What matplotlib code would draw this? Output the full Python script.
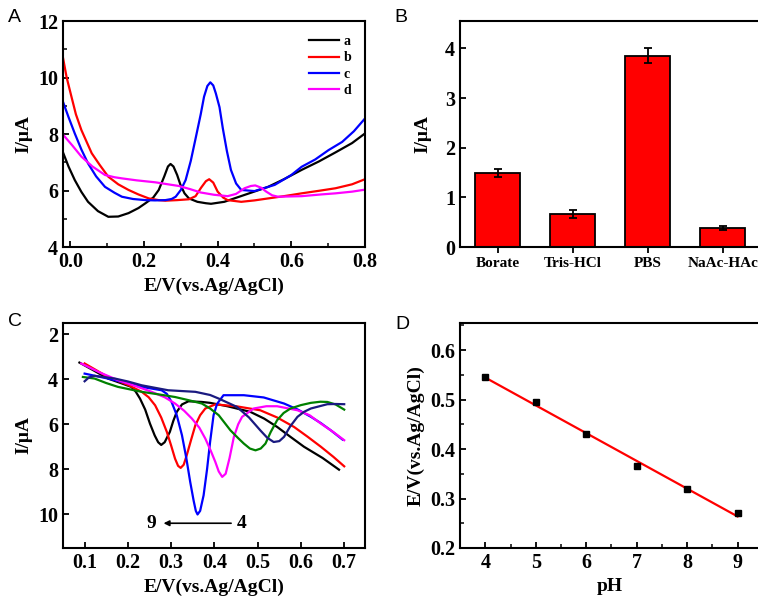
import matplotlib
matplotlib.use("Agg")
import matplotlib.pyplot as plt
import numpy as np
from matplotlib.ticker import MultipleLocator

# ---- panel A: DPV curves a-d ----
a_E = [-0.02, -0.005, 0.012, 0.03, 0.048, 0.075, 0.103, 0.13, 0.158, 0.185, 0.204,
       0.225, 0.24, 0.255, 0.265, 0.272, 0.28, 0.29, 0.299, 0.31, 0.322, 0.345,
       0.368, 0.382, 0.418, 0.445, 0.49, 0.537, 0.58, 0.628, 0.675, 0.72, 0.765, 0.8]
a_I = [7.35, 6.85, 6.37, 5.95, 5.6, 5.27, 5.07, 5.08, 5.2, 5.38, 5.55,
       5.75, 6.02, 6.5, 6.85, 6.94, 6.85, 6.55, 6.2, 5.9, 5.72, 5.6,
       5.55, 5.53, 5.6, 5.72, 5.92, 6.13, 6.4, 6.73, 7.03, 7.35, 7.68, 8.02]

b_E = [-0.02, -0.01, 0.003, 0.015, 0.03, 0.045, 0.058, 0.08, 0.103, 0.13, 0.158,
       0.185, 0.213, 0.24, 0.258, 0.29, 0.322, 0.34, 0.355, 0.368, 0.377, 0.388,
       0.4, 0.415, 0.427, 0.464, 0.5, 0.537, 0.58, 0.628, 0.675, 0.72, 0.765, 0.8]
b_I = [10.7, 10.0, 9.32, 8.7, 8.14, 7.7, 7.32, 6.9, 6.49, 6.22, 6.02,
       5.86, 5.72, 5.66, 5.64, 5.66, 5.69, 5.8, 6.1, 6.33, 6.4, 6.28,
       5.96, 5.75, 5.66, 5.6, 5.65, 5.72, 5.8, 5.9, 5.99, 6.08, 6.22, 6.4]

c_E = [-0.02, -0.005, 0.012, 0.03, 0.048, 0.07, 0.094, 0.12, 0.14, 0.17, 0.204,
       0.23, 0.258, 0.275, 0.286, 0.3, 0.313, 0.327, 0.341, 0.354, 0.363, 0.372,
       0.38, 0.388, 0.395, 0.405, 0.414, 0.425, 0.436, 0.45, 0.464, 0.5, 0.555,
       0.6, 0.628, 0.665, 0.701, 0.738, 0.77, 0.8]
c_I = [9.14, 8.6, 8.02, 7.45, 6.96, 6.5, 6.13, 5.92, 5.78, 5.7, 5.66,
       5.65, 5.66, 5.7, 5.78, 6.02, 6.37, 7.05, 7.9, 8.7, 9.32, 9.7,
       9.83, 9.72, 9.44, 8.95, 8.2, 7.4, 6.73, 6.25, 6.02, 5.98, 6.2,
       6.55, 6.84, 7.1, 7.43, 7.72, 8.1, 8.55]

d_E = [-0.02, 0.005, 0.03, 0.06, 0.094, 0.12, 0.14, 0.18, 0.231, 0.265, 0.295,
       0.325, 0.354, 0.39, 0.427, 0.45, 0.473, 0.49, 0.502, 0.518, 0.532, 0.548,
       0.564, 0.628, 0.68, 0.72, 0.765, 0.8]
d_I = [7.98, 7.6, 7.2, 6.85, 6.55, 6.47, 6.43, 6.36, 6.29, 6.22, 6.16,
       6.05, 5.93, 5.85, 5.8, 5.88, 6.08, 6.16, 6.18, 6.1, 5.96, 5.83,
       5.78, 5.8, 5.86, 5.9, 5.96, 6.03]

# ---- panel B: buffer comparison ----
buffers = ["Borate", "Tris-HCl", "PBS", "NaAc-HAc"]
buffer_I = [1.49, 0.67, 3.85, 0.38]
buffer_err = [0.08, 0.08, 0.15, 0.04]

# ---- panel C: DPV at pH 9 ... 4 ----
ph9_E = [0.088, 0.12, 0.154, 0.185, 0.208, 0.218, 0.228, 0.24, 0.251, 0.262, 0.27,
         0.277, 0.285, 0.297, 0.305, 0.313, 0.325, 0.34, 0.371, 0.39, 0.43, 0.483,
         0.515, 0.545, 0.575, 0.607, 0.65, 0.688]
ph9_I = [3.26, 3.6, 3.97, 4.18, 4.34, 4.55, 4.86, 5.35, 5.97, 6.5, 6.8,
         6.92, 6.8, 6.34, 5.85, 5.45, 5.12, 4.98, 5.01, 5.05, 5.2, 5.45,
         5.75, 6.12, 6.55, 7.0, 7.5, 8.02]

ph8_E = [0.1, 0.154, 0.2, 0.232, 0.248, 0.263, 0.277, 0.29, 0.3, 0.309, 0.316,
         0.322, 0.329, 0.336, 0.346, 0.356, 0.367, 0.379, 0.402, 0.45, 0.506,
         0.545, 0.584, 0.615, 0.646, 0.675, 0.7]
ph8_I = [3.3, 3.9, 4.25, 4.56, 4.8, 5.16, 5.7, 6.34, 6.95, 7.53, 7.85,
         7.94, 7.8, 7.38, 6.7, 6.04, 5.6, 5.3, 5.12, 5.2, 5.38,
         5.7, 6.12, 6.55, 7.0, 7.45, 7.87]

ph7_E = [0.1, 0.154, 0.2, 0.232, 0.278, 0.29, 0.301, 0.313, 0.325, 0.335, 0.344,
         0.352, 0.357, 0.361, 0.367, 0.375, 0.383, 0.39, 0.398, 0.406, 0.421,
         0.468, 0.514, 0.561, 0.593, 0.623, 0.646, 0.669, 0.696]
ph7_I = [3.75, 3.97, 4.18, 4.34, 4.49, 4.65, 5.01, 5.6, 6.49, 7.5, 8.56,
         9.4, 9.85, 10.01, 9.85, 9.16, 8.0, 6.79, 5.6, 5.1, 4.71,
         4.71, 4.81, 5.08, 5.35, 5.67, 5.95, 6.27, 6.68]

ph6_E = [0.092, 0.135, 0.177, 0.22, 0.255, 0.285, 0.309, 0.33, 0.348, 0.365, 0.379,
         0.392, 0.402, 0.41, 0.418, 0.426, 0.435, 0.445, 0.455, 0.464, 0.491,
         0.52, 0.545, 0.592, 0.62, 0.646, 0.675, 0.7]
ph6_I = [3.3, 3.7, 4.04, 4.32, 4.56, 4.8, 5.08, 5.4, 5.75, 6.15, 6.64,
         7.2, 7.67, 8.1, 8.34, 8.2, 7.5, 6.56, 6.0, 5.67, 5.3,
         5.2, 5.2, 5.38, 5.6, 5.97, 6.35, 6.71]

ph5_E = [0.096, 0.123, 0.15, 0.177, 0.232, 0.27, 0.309, 0.34, 0.371, 0.39, 0.41,
         0.437, 0.455, 0.468, 0.482, 0.495, 0.507, 0.518, 0.53, 0.545, 0.56,
         0.576, 0.6, 0.623, 0.645, 0.661, 0.68, 0.7]
ph5_I = [3.9, 3.97, 4.17, 4.34, 4.56, 4.67, 4.79, 4.93, 5.08, 5.3, 5.6,
         6.27, 6.62, 6.86, 7.08, 7.16, 7.08, 6.86, 6.35, 5.82, 5.5,
         5.3, 5.15, 5.05, 5.0, 5.01, 5.12, 5.35]

ph4_E = [0.1, 0.11, 0.123, 0.17, 0.2, 0.232, 0.293, 0.356, 0.39, 0.41, 0.452,
         0.48, 0.506, 0.522, 0.537, 0.55, 0.561, 0.575, 0.592, 0.607, 0.623,
         0.661, 0.68, 0.7]
ph4_I = [4.09, 3.92, 3.85, 3.97, 4.1, 4.27, 4.49, 4.56, 4.7, 4.86, 5.23,
         5.7, 6.27, 6.6, 6.79, 6.75, 6.56, 6.1, 5.67, 5.45, 5.3,
         5.11, 5.1, 5.11]

# ---- panel D: peak potential vs pH ----
pH = [4, 5, 6, 7, 8, 9]
Ep = [0.545, 0.495, 0.43, 0.365, 0.32, 0.27]

plt.rcParams["font.family"] = ["Liberation Serif", "DejaVu Serif"]
plt.rcParams["font.weight"] = "bold"
plt.rcParams["axes.labelweight"] = "bold"
plt.rcParams["axes.linewidth"] = 1.5
plt.rcParams["xtick.major.width"] = 1.3
plt.rcParams["ytick.major.width"] = 1.3
plt.rcParams["xtick.minor.width"] = 1.1
plt.rcParams["ytick.minor.width"] = 1.1

TICK_FS = 14.5
LABEL_FS = 14


def style_ticks(ax, direction="in"):
    ax.tick_params(which="both", direction=direction, labelsize=TICK_FS)
    ax.tick_params(which="major", length=4.5)
    ax.tick_params(which="minor", length=3)


def panel_letter(fig, x, y, letter):
    fig.text(x, y, letter, fontsize=14, fontweight="normal",
             family=["Liberation Sans", "DejaVu Sans"], ha="left", va="top")


def main():
    fig = plt.figure(figsize=(7.58, 6.01), dpi=100)

    axA = fig.add_axes([0.0831, 0.589, 0.3984, 0.376])
    axB = fig.add_axes([0.607, 0.589, 0.396, 0.376])
    axC = fig.add_axes([0.0831, 0.0882, 0.3984, 0.3744])
    axD = fig.add_axes([0.607, 0.0882, 0.396, 0.3744])

    # A
    axA.plot(a_E, a_I, color="black", lw=1.6, label="a")
    axA.plot(b_E, b_I, color="#ff0000", lw=1.6, label="b")
    axA.plot(c_E, c_I, color="#0000ff", lw=1.6, label="c")
    axA.plot(d_E, d_I, color="#ff00ff", lw=1.6, label="d")
    axA.set_xlim(-0.02, 0.8)
    axA.set_ylim(4, 12)
    axA.xaxis.set_major_locator(MultipleLocator(0.2))
    axA.xaxis.set_minor_locator(MultipleLocator(0.1))
    axA.yaxis.set_major_locator(MultipleLocator(2))
    axA.yaxis.set_minor_locator(MultipleLocator(1))
    style_ticks(axA)
    axA.set_xlabel("E/V(vs.Ag/AgCl)", fontsize=LABEL_FS)
    axA.set_ylabel("I/\u03bcA", fontsize=LABEL_FS)
    axA.legend(loc="upper right", frameon=False, fontsize=10, handlelength=2.2,
               handletextpad=0.3, labelspacing=0.25, borderaxespad=0.6)

    # B
    xpos = np.arange(len(buffers))
    axB.bar(xpos, buffer_I, width=0.6, color="#ff0000", edgecolor="black", lw=1.3)
    axB.errorbar(xpos, buffer_I, yerr=buffer_err, fmt="none", ecolor="black",
                 elinewidth=1.3, capsize=3, capthick=1.3)
    axB.set_xlim(-0.5, 3.5)
    axB.set_ylim(0, 4.55)
    axB.set_xticks(xpos)
    axB.set_xticklabels(buffers, fontsize=11)
    axB.yaxis.set_major_locator(MultipleLocator(1))
    axB.tick_params(axis="y", direction="in", labelsize=TICK_FS, length=4.5)
    axB.tick_params(axis="x", direction="out", length=4)
    axB.set_ylabel("I/\u03bcA", fontsize=LABEL_FS, labelpad=10)

    # C
    axC.plot(ph9_E, ph9_I, color="black", lw=1.6)
    axC.plot(ph8_E, ph8_I, color="#ff0000", lw=1.6)
    axC.plot(ph7_E, ph7_I, color="#0000ff", lw=1.6)
    axC.plot(ph6_E, ph6_I, color="#ff00ff", lw=1.6)
    axC.plot(ph5_E, ph5_I, color="#008000", lw=1.6)
    axC.plot(ph4_E, ph4_I, color="#1a1a80", lw=1.6)
    axC.set_xlim(0.05, 0.748)
    axC.set_ylim(11.5, 1.5)
    axC.xaxis.set_major_locator(MultipleLocator(0.1))
    axC.yaxis.set_major_locator(MultipleLocator(2))
    style_ticks(axC)
    axC.set_xlabel("E/V(vs.Ag/AgCl)", fontsize=LABEL_FS)
    axC.set_ylabel("I/\u03bcA", fontsize=LABEL_FS)
    axC.annotate("", xy=(0.276, 10.4), xytext=(0.445, 10.4),
                 arrowprops=dict(arrowstyle="-|>", color="black", lw=1.2,
                                 mutation_scale=8))
    axC.text(0.265, 10.4, "9", fontsize=14, ha="right", va="center")
    axC.text(0.452, 10.4, "4", fontsize=14, ha="left", va="center")

    # D
    k, b = np.polyfit(pH, Ep, 1)
    fit_x = np.array([pH[0], pH[-1]])
    axD.plot(fit_x, k * fit_x + b, color="#ff0000", lw=1.6)
    axD.plot(pH, Ep, "s", color="black", ms=4.5)
    axD.set_xlim(3.5, 9.45)
    axD.set_ylim(0.2, 0.655)
    axD.xaxis.set_major_locator(MultipleLocator(1))
    axD.xaxis.set_minor_locator(MultipleLocator(0.5))
    axD.yaxis.set_major_locator(MultipleLocator(0.1))
    axD.yaxis.set_minor_locator(MultipleLocator(0.05))
    style_ticks(axD)
    axD.set_xlabel("pH", fontsize=LABEL_FS)
    axD.set_ylabel("E/V(vs.Ag/AgCl)", fontsize=LABEL_FS)

    panel_letter(fig, 0.011, 0.985, "A")
    panel_letter(fig, 0.52, 0.985, "B")
    panel_letter(fig, 0.011, 0.48, "C")
    panel_letter(fig, 0.522, 0.475, "D")

    fig.savefig("out.png", dpi=100)


if __name__ == "__main__":
    main()
